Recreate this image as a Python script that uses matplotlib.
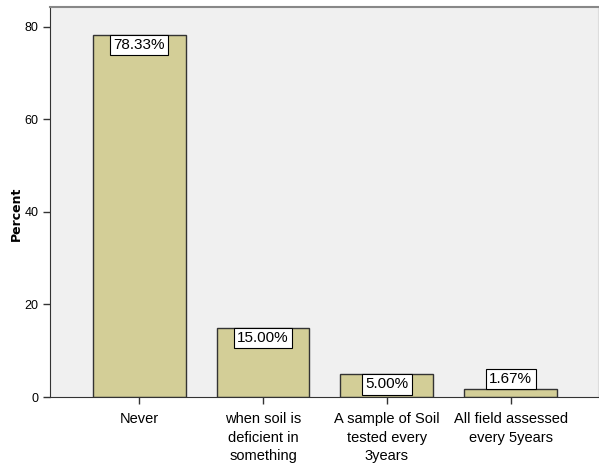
import matplotlib.pyplot as plt

# data
categories = ["Never", "when soil is\ndeficient in\nsomething",
              "A sample of Soil\ntested every\n3years", "All field assessed\nevery 5years"]
percent = [78.33, 15.00, 5.00, 1.67]
yticks = [0, 20, 40, 60, 80]

plt.rcParams['font.family'] = ['Liberation Sans', 'DejaVu Sans']

fig = plt.figure(figsize=(5.99, 4.72), dpi=100)
ax = fig.add_axes([50 / 599, 75 / 472, 548 / 599, 390 / 472])
ax.set_facecolor("#f0f0f0")

x = list(range(len(categories)))
ax.bar(x, percent, width=0.75, color="#d3ce97", edgecolor="#333333", linewidth=1.0, zorder=2)

# value labels: inside the bar top when there is room, otherwise above
for xi, v in zip(x, percent):
    label = f"{v:.2f}%"
    inside = v > 3
    ax.annotate(label, (xi, v), xytext=(0, -2.4 if inside else 2.4), textcoords="offset points",
                ha="center", va="top" if inside else "bottom", fontsize=11, zorder=3,
                bbox=dict(boxstyle="square,pad=0.22", fc="white", ec="black", lw=0.8))

ax.set_xlim(-0.72, 3.705)
ax.set_ylim(0, 84.3)
ax.set_yticks(yticks)
ax.set_yticklabels([str(t) for t in yticks], fontsize=9)
ax.set_xticks(x)
ax.set_xticklabels(categories, fontsize=10.5, linespacing=1.4)
ax.tick_params(axis="both", direction="out", length=5, width=1.0, color="#333333")
ax.tick_params(axis="x", pad=6)

ax.spines["left"].set_color("#333333")
ax.spines["bottom"].set_color("#333333")
ax.spines["top"].set_color("#888888")
ax.spines["top"].set_linewidth(1.5)
ax.spines["right"].set_color("#dddddd")

ax.set_ylabel("Percent", fontsize=9, fontweight="bold", family="DejaVu Sans")
ax.yaxis.set_label_coords(-0.05, 0.469)

fig.savefig("out.png", dpi=100)
